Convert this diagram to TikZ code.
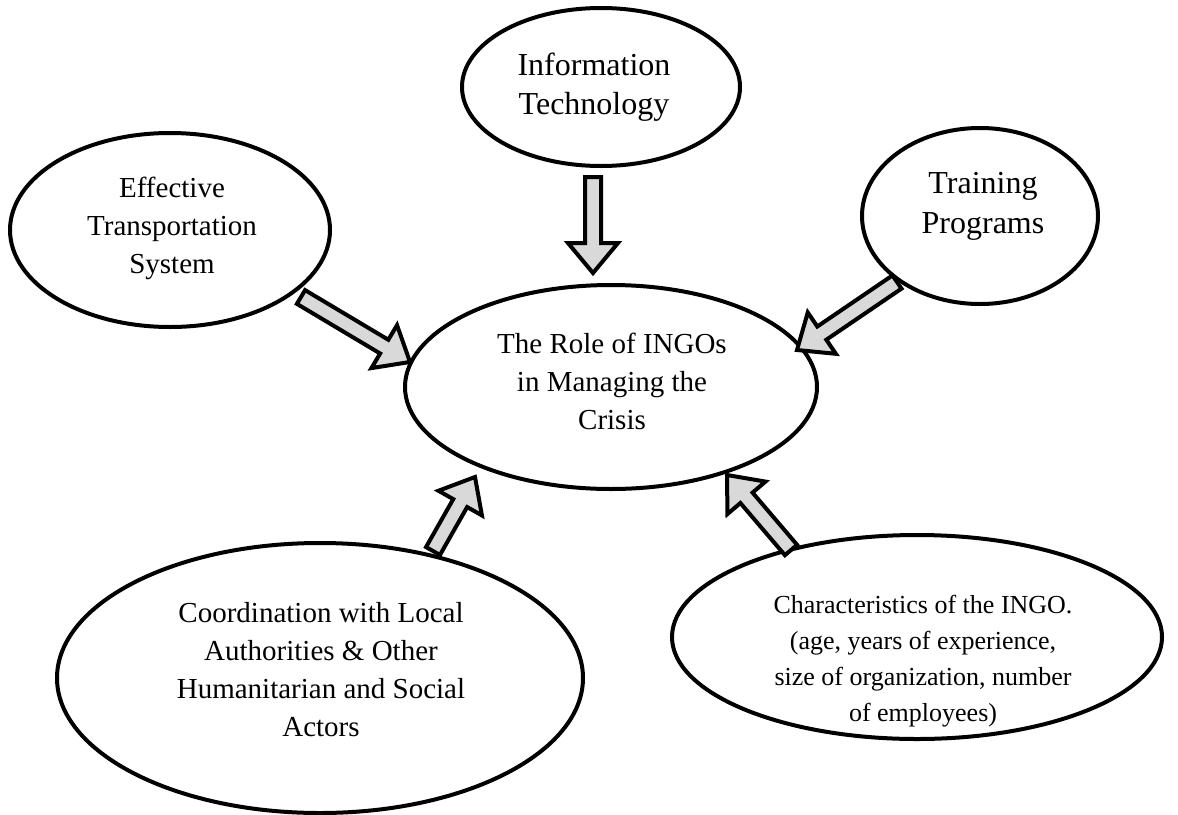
\documentclass[tikz,border=0pt]{standalone}
\usepackage{fontspec}
\setmainfont{Liberation Serif}
\usetikzlibrary{shapes.geometric,calc}

\tikzset{
  factor/.style={ellipse, draw, line width=4pt, inner sep=0pt},
  factortext/.style={align=center, inner sep=0pt, font=\fontsize{29}{38}\selectfont},
  blockarrow/.style={draw, line width=4pt, fill=gray!30, line join=miter}
}

% tail #1, tip #2
\newcommand{\blockarrow}[2]{%
  \coordinate (hb) at ($(#2)!30pt!(#1)$);
  \draw[blockarrow]
      ($(#1)!8pt!90:(#2)$)  -- ($(hb)!8pt!90:(#2)$)  -- ($(hb)!25pt!90:(#2)$)
   -- (#2)
   -- ($(hb)!25pt!-90:(#2)$) -- ($(hb)!8pt!-90:(#2)$) -- ($(#1)!8pt!-90:(#2)$)
   -- cycle;
}

\begin{document}
\begin{tikzpicture}[x=1pt,y=-1pt]
\useasboundingbox (0,0) rectangle (1178,814);

% ellipses
\node [factor, minimum width=278, minimum height=158] (it)    at ( 601, 87) {};
\node [factor, minimum width=320, minimum height=194] (eff)   at ( 170,230) {};
\node [factor, minimum width=236, minimum height=176] (train) at ( 980,216) {};
\node [factor, minimum width=412, minimum height=204] (role)  at ( 611,387) {};
\node [factor, minimum width=526, minimum height=270] (coord) at ( 320,678) {};
\node [factor, minimum width=490, minimum height=204] (chars) at ( 917,637) {};

% texts
\node [factortext, font=\fontsize{32}{39}\selectfont] (it-t)    at ($(it)   +(-7,  0)$) {Information\\Technology};
\node [factortext]                                    (eff-t)   at ($(eff)  +( 2, -2)$) {Effective\\Transportation\\System};
\node [factortext, font=\fontsize{32}{40}\selectfont] (train-t) at ($(train)+( 3,-10)$) {Training\\Programs};
\node [factortext]                                    (role-t)  at ($(role) +( 1, -6)$) {The Role of INGOs\\in Managing the\\Crisis};
\node [factortext]                                    (coord-t) at ($(coord)+( 1, -8)$) {Coordination with Local\\Authorities \& Other\\Humanitarian and Social\\Actors};
\node [factortext, font=\fontsize{26}{36}\selectfont] (chars-t) at ($(chars)+( 6, 24)$) {Characteristics of the INGO.\\(age, years of experience,\\size of organization, number\\of employees)};

% arrow ends
\coordinate (eff-s)   at (301,297);  \coordinate (eff-e)   at (410,362);
\coordinate (it-s)    at (593,177);  \coordinate (it-e)    at (593,273);
\coordinate (train-s) at (897,282);  \coordinate (train-e) at (797,350);
\coordinate (coord-s) at (433,551);  \coordinate (coord-e) at (475,477);
\coordinate (chars-s) at (791,550);  \coordinate (chars-e) at (727,475);

\blockarrow{eff-s}{eff-e}
\blockarrow{it-s}{it-e}
\blockarrow{train-s}{train-e}
\blockarrow{coord-s}{coord-e}
\blockarrow{chars-s}{chars-e}
\end{tikzpicture}
\end{document}
